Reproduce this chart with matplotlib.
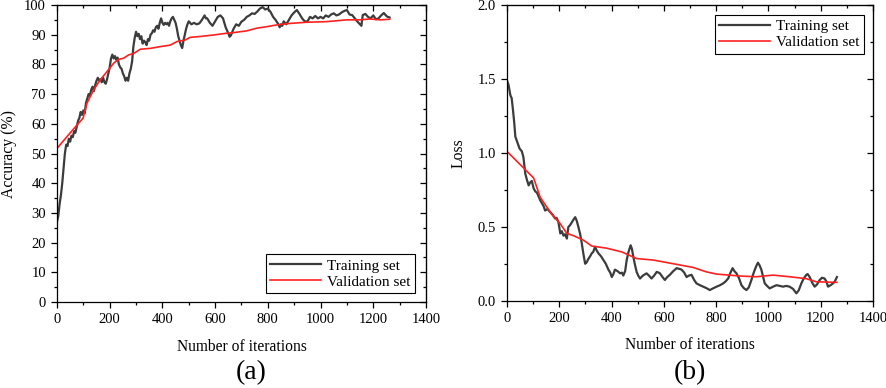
import matplotlib
matplotlib.use("Agg")
import matplotlib.pyplot as plt
from matplotlib.ticker import MultipleLocator

plt.rcParams['font.family'] = ['Liberation Serif', 'DejaVu Serif']

# Accuracy - training set
acc_train_it = [0, 5, 10, 15, 20, 25, 30, 35, 40, 45, 50, 55, 60, 65, 70, 75, 80, 85, 90, 95,
                100, 105, 110, 115, 120, 125, 130, 135, 140, 145, 150, 155, 160, 165, 170, 175,
                180, 185, 190, 195, 200, 205, 210, 215, 220, 225, 230, 235, 240, 245, 250, 255,
                260, 265, 270, 275, 280, 285, 290, 295, 300, 305, 310, 315, 320, 325, 330, 335,
                340, 345, 350, 355, 360, 365, 370, 375, 380, 385, 390, 395, 400, 405, 410, 415,
                420, 425, 430, 435, 440, 445, 450, 455, 460, 465, 470, 475, 480, 485, 490, 495,
                500, 510, 520, 530, 540, 550, 560, 565, 570, 580, 590, 600, 610, 620, 630, 640,
                650, 655, 660, 670, 680, 690, 700, 710, 720, 730, 740, 750, 760, 770, 780, 790,
                800, 810, 820, 830, 840, 845, 850, 855, 860, 870, 880, 890, 900, 910, 920, 930,
                940, 950, 960, 970, 980, 990, 1000, 1010, 1020, 1030, 1040, 1050, 1060, 1070,
                1080, 1090, 1100, 1110, 1120, 1130, 1140, 1150, 1155, 1160, 1170, 1180, 1190,
                1200, 1210, 1220, 1230, 1240, 1250, 1255, 1262]
acc_train = [27, 29, 33, 36, 40, 45, 50, 53, 52.5, 55, 54, 56, 55.5, 57.5, 57, 59, 61, 62, 64, 63,
             64.5, 63.5, 67, 68.5, 70, 69.5, 71.5, 72.5, 71, 73, 74.5, 75.5, 74.5, 75, 74, 75.5,
             74, 73.5, 75, 77, 79, 82, 83.3, 82, 82.8, 81.5, 82.3, 80, 79, 78.5, 77, 76,
             74.5, 75.5, 74.5, 77, 78.5, 81, 86, 89, 91, 89.5, 90.3, 88.5, 89.5, 87, 88, 87.5,
             86.5, 88.5, 88, 90, 90.5, 91.5, 91, 92.5, 93, 92, 94, 95.5, 94, 93.3, 94, 93.5,
             94, 93, 94.5, 95.5, 96, 95, 94, 92, 89.5, 88, 86.5, 85.5, 88, 90, 92, 93.5,
             94.5, 93.5, 94, 93.5, 93.8, 95, 96.5, 95.5, 95.5, 94, 93, 94.5, 96, 96.5, 95.5, 92.5,
             90.5, 89.3, 89.8, 92, 93.5, 93, 94.4, 95, 96, 96.5, 97.2, 97, 97.8, 98.8, 99.3, 98.5,
             98.8, 97.7, 96, 94.9, 93.5, 92.5, 93.5, 93, 94.5, 93.5, 95, 96.5, 97.5, 98.3, 97, 95.5,
             94.5, 94.4, 96, 95.5, 96.3, 95.5, 96, 95.5, 96.5, 96, 96.8, 97.2, 96.5, 96.8,
             97.5, 98, 98.3, 96.8, 96.6, 95.5, 94.4, 93.5, 93, 96.6, 97, 96, 95.5,
             96.5, 95.2, 95.5, 96.5, 97.3, 96.3, 96, 95.8]

# Accuracy - validation set
acc_val_it = [0, 38, 76, 99, 114, 139, 164, 190, 215, 234, 253, 272, 291, 316, 354, 392, 430,
              455, 486, 505, 543, 594, 644, 670, 720, 758, 796, 834, 884, 948, 1023, 1099, 1150,
              1188, 1226, 1262]
acc_val = [51.7, 55.7, 59.6, 61.9, 67, 71.4, 74.8, 77.6, 80.4, 81.7, 82.1, 83.2, 83.7, 85.1, 85.4,
           86, 86.5, 87.7, 88.2, 89.1, 89.4, 89.9, 90.5, 90.7, 91.3, 92.2, 92.7, 93.3, 93.8, 94.2,
           94.4, 95, 95, 95.3, 95, 95.2]

# Loss - training set
loss_train_it = [0, 6, 13, 18, 23, 28, 32, 36, 41, 48, 57, 63, 70, 76, 83, 89, 95, 102, 108, 115,
                 127, 140, 146, 155, 165, 175, 184, 190, 197, 204, 210, 216, 222, 229, 235, 241,
                 248, 255, 261, 267, 273, 280, 286, 292, 299, 305, 312, 318, 324, 330, 337, 343,
                 350, 360, 369, 378, 388, 395, 401, 407, 413, 423, 433, 440, 445, 452, 458, 465,
                 473, 478, 483, 490, 496, 502, 509, 520, 534, 543, 553, 563, 573, 580, 585, 595,
                 604, 613, 623, 636, 649, 660, 668, 678, 687, 696, 706, 716, 725, 738, 751, 763,
                 776, 790, 802, 815, 827, 836, 846, 855, 863, 870, 878, 888, 897, 906, 916, 925,
                 935, 942, 948, 955, 960, 966, 973, 980, 986, 995, 1005, 1018, 1031, 1043, 1056,
                 1068, 1081, 1094, 1107, 1116, 1126, 1135, 1145, 1150, 1158, 1168, 1177, 1186,
                 1196, 1205, 1215, 1222, 1228, 1238, 1247, 1254, 1262]
loss_train = [1.49, 1.46, 1.39, 1.37, 1.29, 1.2, 1.11, 1.09, 1.065, 1.03, 1.01, 0.97, 0.86, 0.82,
              0.78, 0.8, 0.81, 0.76, 0.74, 0.73, 0.68, 0.64, 0.61, 0.62, 0.6, 0.58, 0.556, 0.56,
              0.53, 0.455, 0.47, 0.44, 0.45, 0.42, 0.5, 0.51, 0.53, 0.55, 0.565, 0.54, 0.5, 0.45,
              0.39, 0.32, 0.25, 0.26, 0.285, 0.3, 0.32, 0.33, 0.365, 0.34, 0.32, 0.3, 0.275, 0.25,
              0.21, 0.19, 0.16, 0.18, 0.21, 0.2, 0.185, 0.19, 0.17, 0.2, 0.275, 0.33, 0.375, 0.35,
              0.3, 0.24, 0.195, 0.17, 0.15, 0.17, 0.185, 0.17, 0.15, 0.17, 0.195, 0.19, 0.185,
              0.16, 0.14, 0.16, 0.175, 0.2, 0.22, 0.215, 0.21, 0.19, 0.16, 0.17, 0.175, 0.14,
              0.117, 0.105, 0.095, 0.085, 0.072, 0.085, 0.095, 0.105, 0.117, 0.13, 0.15, 0.19,
              0.22, 0.2, 0.185, 0.15, 0.105, 0.085, 0.072, 0.09, 0.14, 0.18, 0.21, 0.24, 0.257,
              0.24, 0.21, 0.16, 0.117, 0.1, 0.083, 0.095, 0.105, 0.1, 0.095, 0.1, 0.095, 0.08,
              0.05, 0.07, 0.117, 0.15, 0.175, 0.18, 0.16, 0.12, 0.095, 0.11, 0.14, 0.155, 0.15,
              0.13, 0.095, 0.105, 0.117, 0.13, 0.16]

# Loss - validation set
loss_val_it = [0, 102, 127, 165, 204, 229, 254, 292, 324, 382, 439, 496, 560, 636, 712, 763, 802,
               891, 954, 1018, 1081, 1145, 1183, 1262]
loss_val = [1.01, 0.83, 0.70, 0.6, 0.52, 0.455, 0.44, 0.41, 0.37, 0.355, 0.33, 0.285, 0.275,
            0.25, 0.225, 0.195, 0.18, 0.167, 0.162, 0.173, 0.162, 0.149, 0.128, 0.124]

fig = plt.figure(figsize=(8.86, 3.88), dpi=100)
ax1 = fig.add_axes([0.0643, 0.2216, 0.4165, 0.7655])
ax2 = fig.add_axes([0.5722, 0.225, 0.4131, 0.762])

dark = '#3c3c3c'
red = '#ff2020'


def style_axes(ax, ymaj, ymin):
    ax.xaxis.set_major_locator(MultipleLocator(200))
    ax.xaxis.set_minor_locator(MultipleLocator(100))
    ax.yaxis.set_major_locator(MultipleLocator(ymaj))
    ax.yaxis.set_minor_locator(MultipleLocator(ymin))
    ax.tick_params(which='both', direction='out', labelsize=10.5, width=0.9)
    ax.tick_params(which='major', length=4.5)
    ax.tick_params(which='minor', length=2.5)
    for s in ax.spines.values():
        s.set_linewidth(0.9)
    # mirror ticks on top/right pointing inward
    top = ax.secondary_xaxis('top')
    top.xaxis.set_major_locator(MultipleLocator(200))
    top.xaxis.set_minor_locator(MultipleLocator(100))
    top.tick_params(which='both', direction='in', labeltop=False, width=0.9)
    top.tick_params(which='major', length=4.5)
    top.tick_params(which='minor', length=2.5)
    right = ax.secondary_yaxis('right')
    right.yaxis.set_major_locator(MultipleLocator(ymaj))
    right.yaxis.set_minor_locator(MultipleLocator(ymin))
    right.tick_params(which='both', direction='in', labelright=False, width=0.9)
    right.tick_params(which='major', length=4.5)
    right.tick_params(which='minor', length=2.5)


ax1.plot(acc_train_it, acc_train, color=dark, lw=1.6, label='Training set')
ax1.plot(acc_val_it, acc_val, color=red, lw=1.2, label='Validation set')
ax1.set_xlim(0, 1400)
ax1.set_ylim(0, 100)
style_axes(ax1, 10, 5)
ax1.set_xlabel('Number of iterations', fontsize=11.2, labelpad=9)
ax1.set_ylabel('Accuracy (%)', fontsize=11.3, labelpad=5)
leg1 = ax1.legend(loc='lower right', bbox_to_anchor=(0.97, 0.03), borderaxespad=0,
                  fontsize=11, fancybox=False, edgecolor='black', framealpha=1,
                  handlelength=3.3, handletextpad=0.4, borderpad=0.3, labelspacing=0.15)
leg1.get_frame().set_linewidth(0.8)

ax2.plot(loss_train_it, loss_train, color=dark, lw=1.6, label='Training set')
ax2.plot(loss_val_it, loss_val, color=red, lw=1.2, label='Validation set')
ax2.set_xlim(0, 1400)
ax2.set_ylim(0, 2.0)
style_axes(ax2, 0.5, 0.25)
ax2.set_xlabel('Number of iterations', fontsize=11.2, labelpad=9)
ax2.set_ylabel('Loss', fontsize=11.3, labelpad=8)
leg2 = ax2.legend(loc='upper right', bbox_to_anchor=(0.975, 0.966), borderaxespad=0,
                  fontsize=11, fancybox=False, edgecolor='black', framealpha=1,
                  handlelength=3.3, handletextpad=0.4, borderpad=0.3, labelspacing=0.15)
leg2.get_frame().set_linewidth(0.8)

fig.text(251 / 886, 1 - 373 / 388, '(a)', fontsize=20, ha='center', va='center')
fig.text(690 / 886, 1 - 373 / 388, '(b)', fontsize=20, ha='center', va='center')

fig.savefig('out.png', dpi=100)
